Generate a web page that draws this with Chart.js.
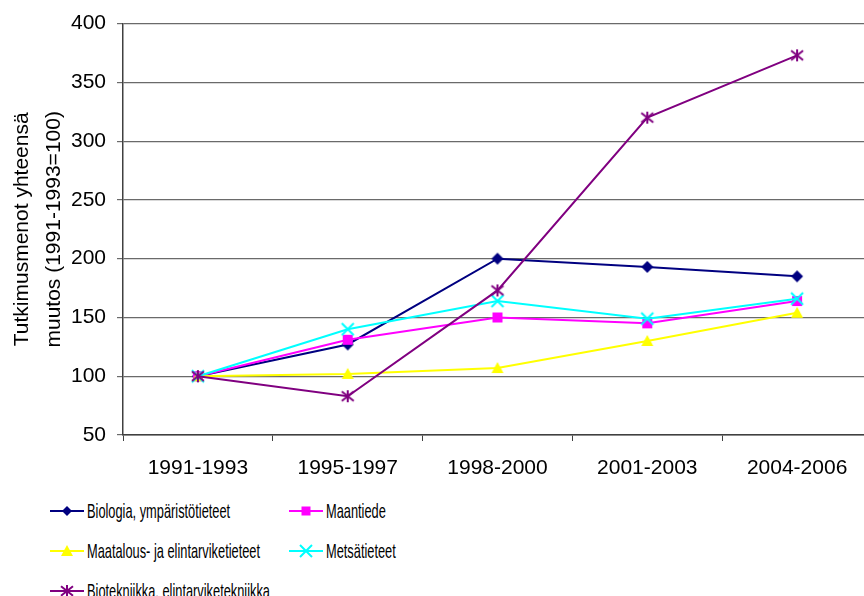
<!DOCTYPE html>
<html>
<head>
<meta charset="utf-8">
<script src="https://cdn.jsdelivr.net/npm/chart.js@4"></script>
<style>
  html, body { margin: 0; padding: 0; background: #fff; overflow: hidden; }
  #wrap { position: relative; width: 864px; height: 596px; overflow: hidden; }
  #c { position: absolute; left: 0; top: 0; }
  .lg { position: absolute; height: 24px; white-space: nowrap; }
  .lg canvas { position: absolute; left: 0; top: 2px; }
  .lg span { position: absolute; top: 0; font-family: 'Liberation Sans', Arial, sans-serif; font-size: 21px; line-height: 24px; color: #000; transform: scaleX(0.61); transform-origin: 0 50%; }
</style>
</head>
<body>
<div id="wrap">
  <canvas id="c" width="880" height="490"></canvas>
</div>
<script>
const categories = ['1991-1993', '1995-1997', '1998-2000', '2001-2003', '2004-2006'];
const seriesNames = ['Biologia, ympäristötieteet', 'Maantiede', 'Maatalous- ja elintarviketieteet', 'Metsätieteet', 'Biotekniikka, elintarviketekniikka'];
const biologia = [100, 127, 200, 193, 185];
const maantiede = [100, 131, 150, 145, 164];
const maatalous = [100, 102, 107, 130, 154];
const metsatieteet = [100, 140, 164, 149, 166];
const biotekniikka = [100, 83, 173, 320, 373];
const yTitle = ['Tutkimusmenot yhteensä', 'muutos (1991-1993=100)'];

const colors = ['#000080', '#FF00FF', '#FFFF00', '#00FFFF', '#800080'];
const markers = ['diamond', 'square', 'triangle', 'cross', 'star'];
const values = [biologia, maantiede, maatalous, metsatieteet, biotekniikka];

function drawMarker(ctx, type, cx, cy, s, color) {
  ctx.save();
  ctx.fillStyle = color;
  ctx.strokeStyle = color;
  ctx.lineWidth = 2;
  ctx.beginPath();
  if (type === 'diamond') {
    ctx.moveTo(cx, cy - s); ctx.lineTo(cx + s, cy); ctx.lineTo(cx, cy + s); ctx.lineTo(cx - s, cy); ctx.closePath(); ctx.fill();
  } else if (type === 'square') {
    ctx.rect(cx - s, cy - s, 2 * s, 2 * s); ctx.fill();
  } else if (type === 'triangle') {
    ctx.moveTo(cx, cy - s); ctx.lineTo(cx + s, cy + s * 0.85); ctx.lineTo(cx - s, cy + s * 0.85); ctx.closePath(); ctx.fill();
  } else if (type === 'cross') {
    ctx.moveTo(cx - s, cy - s); ctx.lineTo(cx + s, cy + s); ctx.moveTo(cx + s, cy - s); ctx.lineTo(cx - s, cy + s); ctx.stroke();
  } else if (type === 'star') {
    ctx.moveTo(cx - s, cy - s * 0.8); ctx.lineTo(cx + s, cy + s * 0.8); ctx.moveTo(cx + s, cy - s * 0.8); ctx.lineTo(cx - s, cy + s * 0.8);
    ctx.moveTo(cx, cy - s); ctx.lineTo(cx, cy + s); ctx.stroke();
  }
  ctx.restore();
}

function markerCanvas(type, s, color) {
  const c = document.createElement('canvas');
  const size = Math.ceil(2 * s + 4);
  c.width = size; c.height = size;
  drawMarker(c.getContext('2d'), type, size / 2, size / 2, s, color);
  return c;
}

const chartSizes = { diamond: 6, square: 5, triangle: 6, cross: 6, star: 6 };

const datasets = values.map((v, i) => ({
  label: seriesNames[i],
  data: v,
  borderColor: colors[i],
  backgroundColor: colors[i],
  borderWidth: 2,
  pointStyle: markerCanvas(markers[i], chartSizes[markers[i]], colors[i]),
  pointRadius: 6,
  pointHoverRadius: 6,
  tension: 0,
  order: 4 - i
}));

const FONT = "'Liberation Sans', Arial, sans-serif";
const CANVAS_H = 490;

new Chart(document.getElementById('c'), {
  type: 'line',
  data: { labels: categories, datasets: datasets },
  options: {
    responsive: false,
    devicePixelRatio: 1,
    animation: false,
    layout: { padding: { top: 21, right: 7, bottom: 0, left: 0 } },
    plugins: { legend: { display: false }, tooltip: { enabled: false } },
    scales: {
      x: {
        offset: true,
        grid: { offset: true, drawOnChartArea: false, drawTicks: true, tickLength: 6, color: '#404040', lineWidth: 1 },
        border: { color: '#404040', width: 1.5 },
        ticks: { color: '#000', font: { family: FONT, size: 21 }, padding: 15, maxRotation: 0, autoSkip: false },
        afterFit: function (s) { s.height = CANVAS_H - 435; }
      },
      y: {
        min: 50, max: 400,
        ticks: { stepSize: 50, color: '#000', font: { family: FONT, size: 21 }, padding: 11 },
        grid: { color: '#6a6a6a', lineWidth: 1.2, drawTicks: true, tickLength: 6 },
        border: { color: '#404040', width: 1.5 },
        title: { display: true, text: yTitle, color: '#000', font: { family: FONT, size: 21, lineHeight: 1.52 }, padding: { top: 6, bottom: 0 } },
        afterFit: function (s) { s.width = 123; }
      }
    }
  }
});

// HTML legend, two columns
const legendPos = [
  { x: 50, y: 511 }, { x: 289, y: 511 },
  { x: 50, y: 551 }, { x: 289, y: 551 },
  { x: 50, y: 591 }
];
const legendSizes = { diamond: 5, square: 4.5, triangle: 6, cross: 6, star: 6 };
const wrap = document.getElementById('wrap');
seriesNames.forEach((name, i) => {
  const d = document.createElement('div');
  d.className = 'lg';
  d.style.left = legendPos[i].x + 'px';
  d.style.top = (legendPos[i].y - 12) + 'px';
  const cv = document.createElement('canvas');
  cv.width = 34; cv.height = 20;
  const ctx = cv.getContext('2d');
  ctx.strokeStyle = colors[i]; ctx.lineWidth = 2;
  ctx.beginPath(); ctx.moveTo(0, 10); ctx.lineTo(34, 10); ctx.stroke();
  drawMarker(ctx, markers[i], 17, 10, legendSizes[markers[i]], colors[i]);
  d.appendChild(cv);
  const sp = document.createElement('span');
  sp.style.left = '37px';
  sp.textContent = name;
  d.appendChild(sp);
  wrap.appendChild(d);
});
</script>
</body>
</html>
